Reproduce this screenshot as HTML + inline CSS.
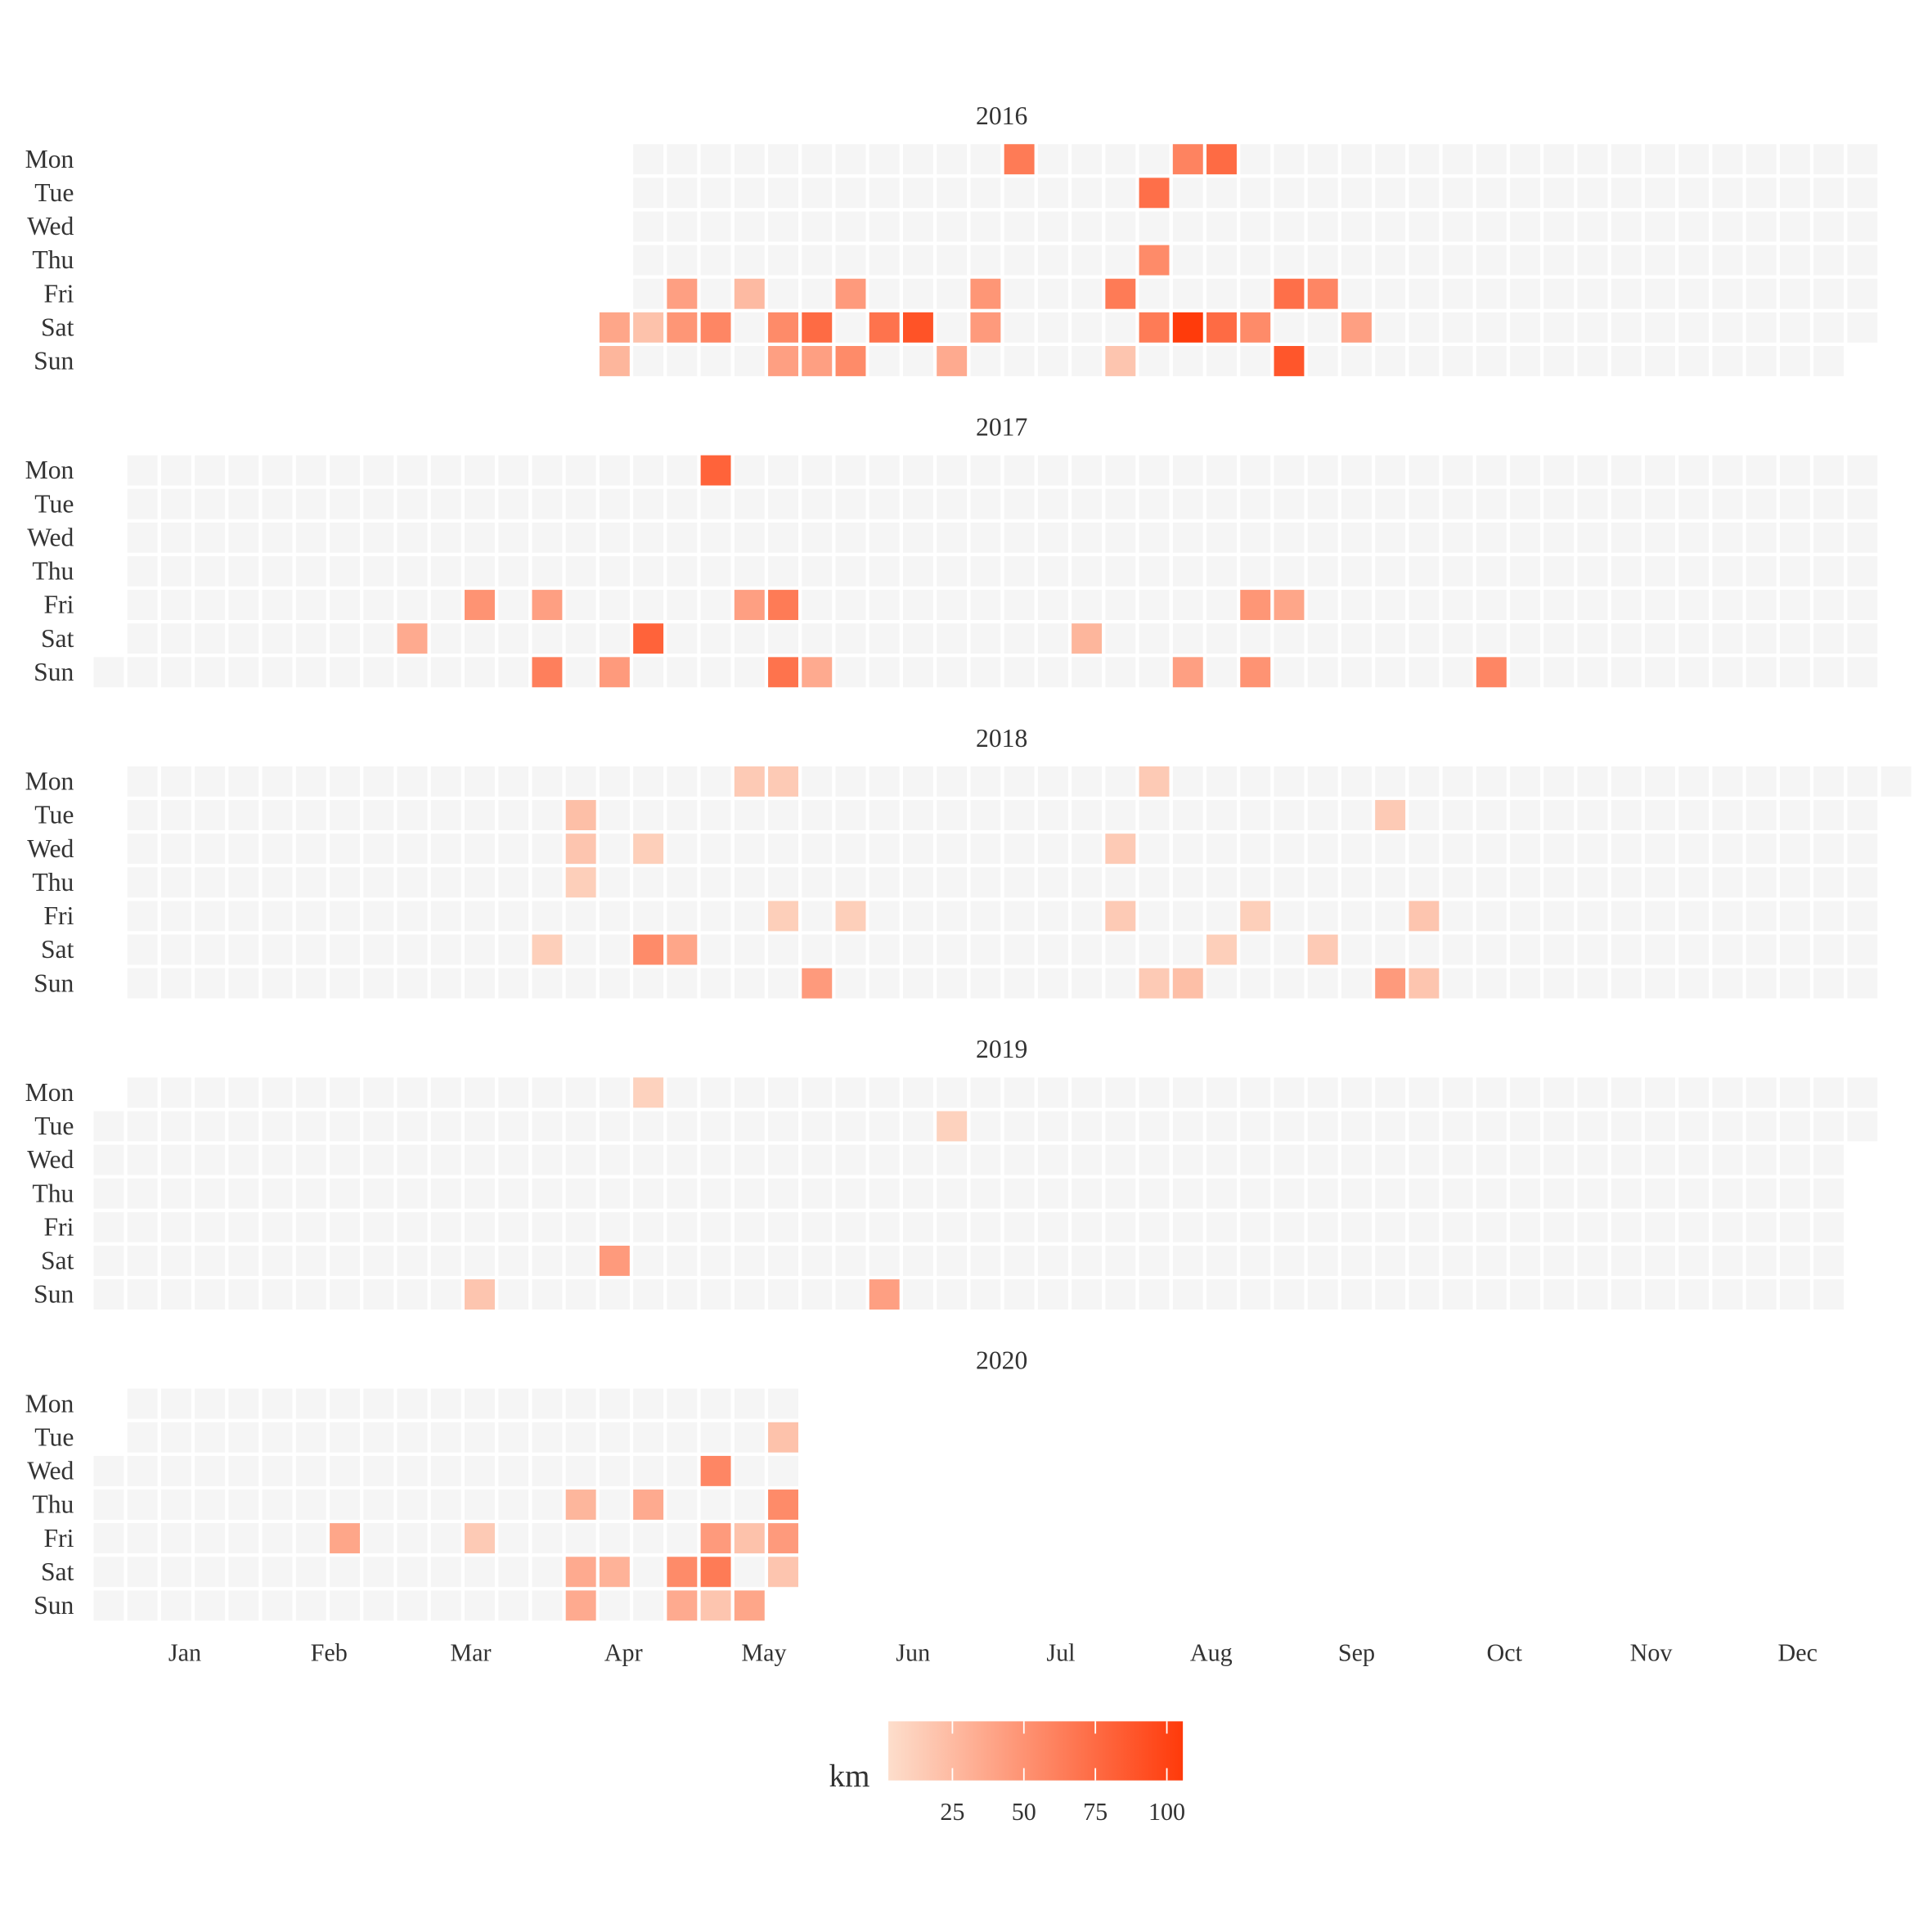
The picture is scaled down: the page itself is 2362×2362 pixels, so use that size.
<!DOCTYPE html>
<html><head><meta charset="utf-8"><style>
html,body{margin:0;padding:0;background:#fff;}
svg{display:block;}
text{font-family:"Liberation Serif",serif;fill:#333;}
</style></head><body>
<svg id="chart" width="2362" height="2362" viewBox="0 0 1568 1568" xmlns="http://www.w3.org/2000/svg"></svg>
<script>
const years = [2016, 2017, 2018, 2019, 2020];
const dayLabels = ["Mon","Tue","Wed","Thu","Fri","Sat","Sun"];
const monthLabels = ["Jan","Feb","Mar","Apr","May","Jun","Jul","Aug","Sep","Oct","Nov","Dec"];
const legendTicks = [25, 50, 75, 100];
const startDate = "2016-04-16";
const endDate = "2020-05-23";
// colored activity cells per year: week (%W), weekday (0=Mon), km
const week2016 = [27,32,33, 31, 31, 17,19,22,26,30,35,36, 15,16,17,18,20,21,23,24,26,31,32,33,34,37, 15,20,21,22,25,30,35];
const day2016  = [0,0,0, 1, 3, 4,4,4,4,4,4,4, 5,5,5,5,5,5,5,5,5,5,5,5,5,5, 6,6,6,6,6,6,6];
const km2016   = [65,60,75, 72, 55, 42,25,45,48,65,72,58, 38,20,48,58,55,75,70,90,45,65,105,75,55,42, 28,42,42,55,35,18,88];
const week2017 = [18, 11,13,19,20,34,35, 9,16,29, 13,15,20,21,32,34,41];
const day2017  = [0, 4,4,4,4,4,4, 5,5,5, 6,6,6,6,6,6,6];
const km2017   = [80, 50,42,42,65,48,38, 35,80,28, 62,45,70,35,42,50,58];
const week2018 = [19,20,31, 14,38, 14,16,30, 14, 20,22,30,34,39, 13,16,17,33,36, 21,31,32,38,39];
const day2018  = [0,0,0, 1,1, 2,2,2, 3, 4,4,4,4,4, 5,5,5,5,5, 6,6,6,6,6];
const km2018   = [15,15,15, 22,15, 18,12,15, 12, 12,12,15,12,18, 12,55,38,12,15, 45,15,22,45,18];
const week2019 = [16, 25, 15, 11,23];
const day2019  = [0, 1, 5, 6,6];
const km2019   = [10, 10, 45, 18,42];
const week2020 = [20, 18, 14,16,20, 7,11,18,19,20, 14,15,17,18,20, 14,17,18,19];
const day2020  = [1, 2, 3,3,3, 4,4,4,4,4, 5,5,5,5,5, 6,6,6,6];
const km2020   = [20, 58, 28,35,55, 38,15,45,20,45, 35,30,55,65,18, 35,35,18,38];

const weeksByYear = [week2016, week2017, week2018, week2019, week2020];
const daysByYear = [day2016, day2017, day2018, day2019, day2020];
const kmByYear = [km2016, km2017, km2018, km2019, km2020];

const svg = document.getElementById('chart');
const NS = "http://www.w3.org/2000/svg";
const X0 = 76, DX = 27.37, Y0 = 117, DY = 27.3, PANEL = 252.5, CW = 24.5;
const xCol = c => X0 + c * DX;
const yRow = (p, r) => Y0 + p * PANEL + r * DY;
const lo = [253,222,204], hi = [255,58,10], vMin = 2.6, vMax = 105.6;
function color(v){
  let t = Math.max(0, Math.min(1, (v - vMin) / (vMax - vMin)));
  return "rgb(" + lo.map((a,i)=>Math.round(a + (hi[i]-a)*t)).join(",") + ")";
}
function el(tag, attrs, parent){
  const e = document.createElementNS(NS, tag);
  for (const k in attrs) e.setAttribute(k, attrs[k]);
  (parent || svg).appendChild(e);
  return e;
}
function weekW(d){
  const jan1 = new Date(Date.UTC(d.getUTCFullYear(),0,1));
  const doy = Math.round((d - jan1)/86400000);
  const wd = (d.getUTCDay() + 6) % 7;
  return Math.floor((doy + 7 - wd) / 7);
}
years.forEach((y, p) => {
  const t = el('text', {x: 813, y: 101 + p*PANEL, 'text-anchor':'middle', 'font-size': 21});
  
  
  t.textContent = y;
  dayLabels.forEach((d, r) => {
    const tl = el('text', {x: 60, y: yRow(p, r) + 19, 'text-anchor':'end', 'font-size': 21});
    
    
    tl.textContent = d;
  });
});
const s = new Date(startDate + "T00:00:00Z"), e = new Date(endDate + "T00:00:00Z");
for (let d = new Date(s); d <= e; d = new Date(d.getTime() + 86400000)) {
  const p = years.indexOf(d.getUTCFullYear());
  const r = (d.getUTCDay() + 6) % 7;
  const c = weekW(d);
  const rc = el('rect', {x: xCol(c), y: yRow(p, r), width: CW, height: CW, fill: '#f5f5f5'});
  
  
}
years.forEach((y, p) => {
  const wk = weeksByYear[p], dy = daysByYear[p], km = kmByYear[p];
  km.forEach((v, i) => {
    const rc = el('rect', {x: xCol(wk[i]), y: yRow(p, dy[i]), width: CW, height: CW, fill: color(v)});
    
    
  });
});
const monthX = [150,267,382,506,620,741,861,983,1101,1221,1340,1459];
monthLabels.forEach((m, i) => {
  const t = el('text', {x: monthX[i], y: 1348, 'text-anchor':'middle', 'font-size': 20});
  
  
  t.textContent = m;
});
const defs = el('defs', {});
const grad = el('linearGradient', {id:'lg', x1:0, x2:1, y1:0, y2:0}, defs);
el('stop', {offset:'0', 'stop-color': color(vMin)}, grad);
el('stop', {offset:'1', 'stop-color': color(vMax)}, grad);
const LX0 = 721, LX1 = 960;
const lx = v => LX0 + (v - vMin) / (vMax - vMin) * (LX1 - LX0);
const bar = el('rect', {x: LX0, y: 1397, width: LX1 - LX0, height: 48, fill: 'url(#lg)'});


const lt = el('text', {x: 706, y: 1450, 'text-anchor':'end', 'font-size': 26, fill:'#000'});


lt.textContent = 'km';
legendTicks.forEach(v => {
  el('line', {x1: lx(v), x2: lx(v), y1: 1397, y2: 1407, stroke:'#fff', 'stroke-width': 1.2});
  el('line', {x1: lx(v), x2: lx(v), y1: 1435, y2: 1445, stroke:'#fff', 'stroke-width': 1.2});
  const t = el('text', {x: lx(v), y: 1477, 'text-anchor':'middle', 'font-size': 20});
  
  
  t.textContent = v;
});
</script>
</body></html>
